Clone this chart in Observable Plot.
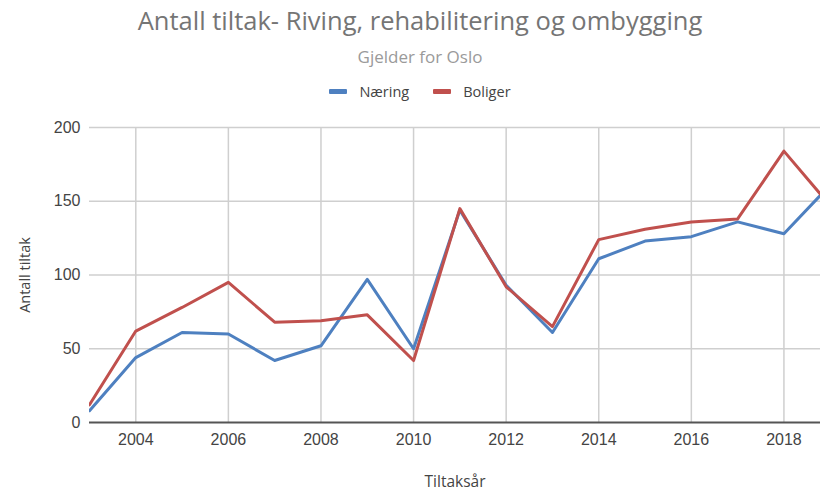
<!DOCTYPE html>
<html>
<head>
<meta charset="utf-8">
<script src="https://cdn.jsdelivr.net/npm/d3@7"></script>
<script src="https://cdn.jsdelivr.net/npm/@observablehq/plot@0.6"></script>
<style>
  html, body { margin: 0; padding: 0; background: #fff; }
  #wrap { width: 820px; font-family: "Open Sans", "Noto Sans", sans-serif; }
  #head { width: 840px; }
  #title { height: 40px; line-height: 40px; text-align: center; font-size: 25.5px; color: #757575; }
  #subtitle { height: 32px; line-height: 34px; text-align: center; font-size: 17px; color: #9a9a9a; }
  #legend { height: 38px; display: flex; justify-content: center; align-items: center; gap: 24px; font-size: 14.5px; color: #444; }
  .item { display: flex; align-items: center; gap: 12px; }
  .sw { width: 18px; height: 5px; border-radius: 1px; }
</style>
</head>
<body>
<div id="wrap">
  <div id="head">
    <div id="title">Antall tiltak- Riving, rehabilitering og ombygging</div>
    <div id="subtitle">Gjelder for Oslo</div>
    <div id="legend"></div>
  </div>
  <div id="chart"></div>
</div>
<script>
const years   = [2003, 2004, 2005, 2006, 2007, 2008, 2009, 2010, 2011, 2012, 2013, 2014, 2015, 2016, 2017, 2018, 2019];
const naering = [8, 44, 61, 60, 42, 52, 97, 50, 144, 93, 61, 111, 123, 126, 136, 128, 161];
const boliger = [12, 62, 78, 95, 68, 69, 73, 42, 145, 92, 65, 124, 131, 136, 138, 184, 147];
const seriesNames = ["Næring", "Boliger"];
const seriesColors = ["#4e80c0", "#c0504d"];
const xTicks = [2004, 2006, 2008, 2010, 2012, 2014, 2016, 2018];
const yTicks = [0, 50, 100, 150, 200];

const data = [];
years.forEach((y, i) => {
  data.push({year: y, value: naering[i], series: seriesNames[0]});
  data.push({year: y, value: boliger[i], series: seriesNames[1]});
});

const legend = document.getElementById("legend");
seriesNames.forEach((n, i) => {
  const it = document.createElement("div");
  it.className = "item";
  it.innerHTML = `<span class="sw" style="background:${seriesColors[i]}"></span><span>${n}</span>`;
  legend.appendChild(it);
});

const tickFont = "'Liberation Sans', Arial, sans-serif";
const chart = Plot.plot({
  width: 820,
  height: 380,
  marginTop: 17,
  marginBottom: 68,
  marginLeft: 89,
  marginRight: 0,
  style: {fontFamily: "'Open Sans', 'Noto Sans', sans-serif", fontSize: "14px", color: "#444", background: "#fff"},
  x: {domain: [2003, 2018.79], label: null},
  y: {domain: [0, 200], label: null},
  color: {domain: seriesNames, range: seriesColors},
  marks: [
    Plot.gridY(yTicks.filter(d => d > 0), {stroke: "#cfcfcf", strokeOpacity: 1, strokeWidth: 1.5}),
    Plot.gridX(xTicks, {stroke: "#cfcfcf", strokeOpacity: 1, strokeWidth: 1.5}),
    Plot.axisY(yTicks, {tickSize: 0, tickPadding: 9, fontSize: 16, fontFamily: tickFont, fill: "#444", label: null}),
    Plot.axisY({ticks: [], tickSize: 0, fontSize: 14.5, fill: "#444", label: "Antall tiltak", labelAnchor: "center", labelOffset: 70, labelArrow: "none", dy: 9}),
    Plot.axisX(xTicks, {tickSize: 0, tickPadding: 11, fontSize: 16, fontFamily: tickFont, fill: "#444", tickFormat: d => String(d), label: null}),
    Plot.axisX({ticks: [], tickSize: 0, fontSize: 15.5, fill: "#444", label: "Tiltaksår", labelAnchor: "center", labelOffset: 64, labelArrow: "none", dx: 6}),
    Plot.line(data, {x: "year", y: "value", z: "series", stroke: "series", strokeWidth: 3, clip: true}),
    Plot.ruleY([0], {stroke: "#555", strokeWidth: 2})
  ]
});
document.getElementById("chart").appendChild(chart);
</script>
</body>
</html>
